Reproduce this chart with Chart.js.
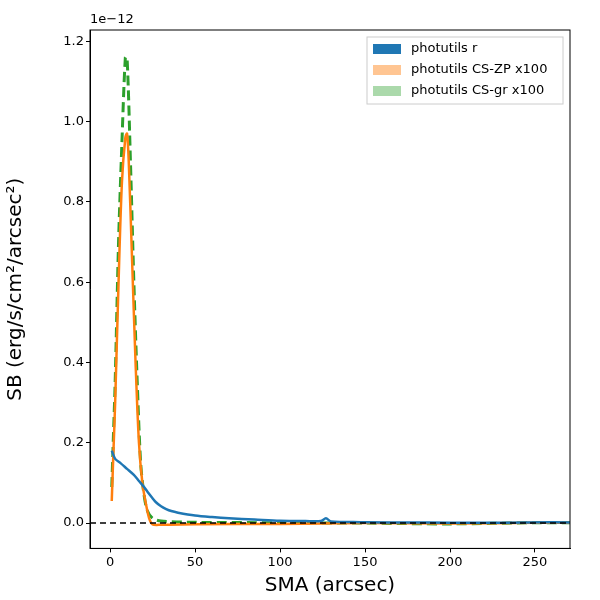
<!DOCTYPE html><html><head><script src="https://cdn.jsdelivr.net/npm/chart.js@4"></script>
<style>body{margin:0;background:#fff}#w{width:600px;height:600px}</style></head><body><div id="w"><canvas id="c"></canvas></div>
<script>
const smaR=[1,3,6,10,14,17,20,22,25,27,30,33,36,40,50,60,70,85,100,115,124,127,130,140,150,175,200,230,260,285];
const valR=[0.18,0.16,0.15,0.135,0.12,0.105,0.09,0.078,0.062,0.052,0.042,0.035,0.03,0.026,0.019,0.015,0.012,0.009,0.006,0.005,0.005,0.012,0.004,0.003,0.002,0.0015,0.001,0.001,0.002,0.001];
const smaZP=[1,2,3,5,7,9,10,11,13,15,17,19,21,23,25,30,50,100,150,200,250,285];
const valZP=[0.055,0.18,0.3,0.6,0.85,0.96,0.97,0.9,0.65,0.4,0.2,0.1,0.05,0.012,-0.003,-0.004,-0.003,-0.002,0,-0.001,0.001,0.001];
const smaGR=[1,2,3,5,7,9,10,12,14,16,18,20,22,25,30,50,100,150,200,250,285];
const valGR=[0.09,0.22,0.35,0.7,0.95,1.16,1.16,0.9,0.6,0.35,0.15,0.07,0.03,0.012,0.005,0.002,0.001,0,-0.002,0.001,0.001];
const xTicks=[0,50,100,150,200,250];
const yTicks=[0,0.2,0.4,0.6,0.8,1.0,1.2];
const labels=['photutils r','photutils CS-ZP x100','photutils CS-gr x100'];
const cols=['#1f77b4','#ff7f0e','#2ca02c'];
const legCols=['#1f77b4','rgba(255,127,14,0.45)','rgba(44,160,44,0.4)'];
const pts=(a,b)=>a.map((x,i)=>({x,y:b[i]}));
const deco={id:'deco',afterDraw(ch){const c=ch.ctx,a=ch.chartArea;c.save();
c.strokeStyle='#000';c.lineWidth=1.5;c.setLineDash([6,4]);const y0=ch.scales.y.getPixelForValue(0);
c.beginPath();c.moveTo(a.left,y0);c.lineTo(a.right,y0);c.stroke();c.setLineDash([]);
c.lineWidth=1;c.strokeRect(a.left,a.top,a.right-a.left,a.bottom-a.top);
c.fillStyle='#000';c.font='13px "DejaVu Sans"';c.textAlign='left';c.textBaseline='bottom';c.fillText('1e\u221212',a.left,a.top-4);
const lx=367,ly=37,lw=196,lh=67;c.fillStyle='rgba(255,255,255,0.8)';c.strokeStyle='#ccc';c.fillRect(lx,ly,lw,lh);c.strokeRect(lx,ly,lw,lh);
c.textBaseline='middle';labels.forEach((t,i)=>{const yy=ly+12+i*21;c.fillStyle=legCols[i];c.fillRect(lx+6,yy-5,28,10);c.fillStyle='#000';c.fillText(t,lx+44,yy);});
c.restore();}};
const gridOpt={display:true,drawOnChartArea:false,drawTicks:true,tickLength:4,color:'#000'};
new Chart(document.getElementById('c'),{type:'line',data:{datasets:[
{label:labels[0],data:pts(smaR,valR),borderColor:cols[0],borderWidth:2.5,pointRadius:0,tension:0.3},
{label:labels[1],data:pts(smaZP,valZP),borderColor:cols[1],borderWidth:2.5,pointRadius:0,tension:0.3},
{label:labels[2],data:pts(smaGR,valGR),borderColor:cols[2],borderWidth:3,borderDash:[10,5],pointRadius:0,tension:0.3}]},
options:{animation:false,responsive:true,maintainAspectRatio:false,layout:{padding:{top:30,right:30,bottom:2}},
plugins:{legend:{display:false},tooltip:{enabled:false}},
scales:{x:{type:'linear',min:-11.8,max:270.6,grid:gridOpt,border:{color:'#000'},
afterBuildTicks:s=>{s.ticks=xTicks.map(v=>({value:v}))},
ticks:{color:'#000',font:{family:'DejaVu Sans',size:13},maxRotation:0,padding:2},
title:{display:true,text:'SMA (arcsec)',color:'#000',font:{family:'DejaVu Sans',size:20},padding:{top:2,bottom:0}}},
y:{min:-0.063,max:1.228,grid:gridOpt,border:{color:'#000'},
afterBuildTicks:s=>{s.ticks=yTicks.map(v=>({value:v}))},
afterFit:s=>{s.width=90},
ticks:{color:'#000',font:{family:'DejaVu Sans',size:13},padding:2,callback:v=>v.toFixed(1)},
title:{display:true,text:'SB (erg/s/cm\u00b2/arcsec\u00b2)',color:'#000',font:{family:'DejaVu Sans',size:20}}}}},
plugins:[deco]});
</script></body></html>
